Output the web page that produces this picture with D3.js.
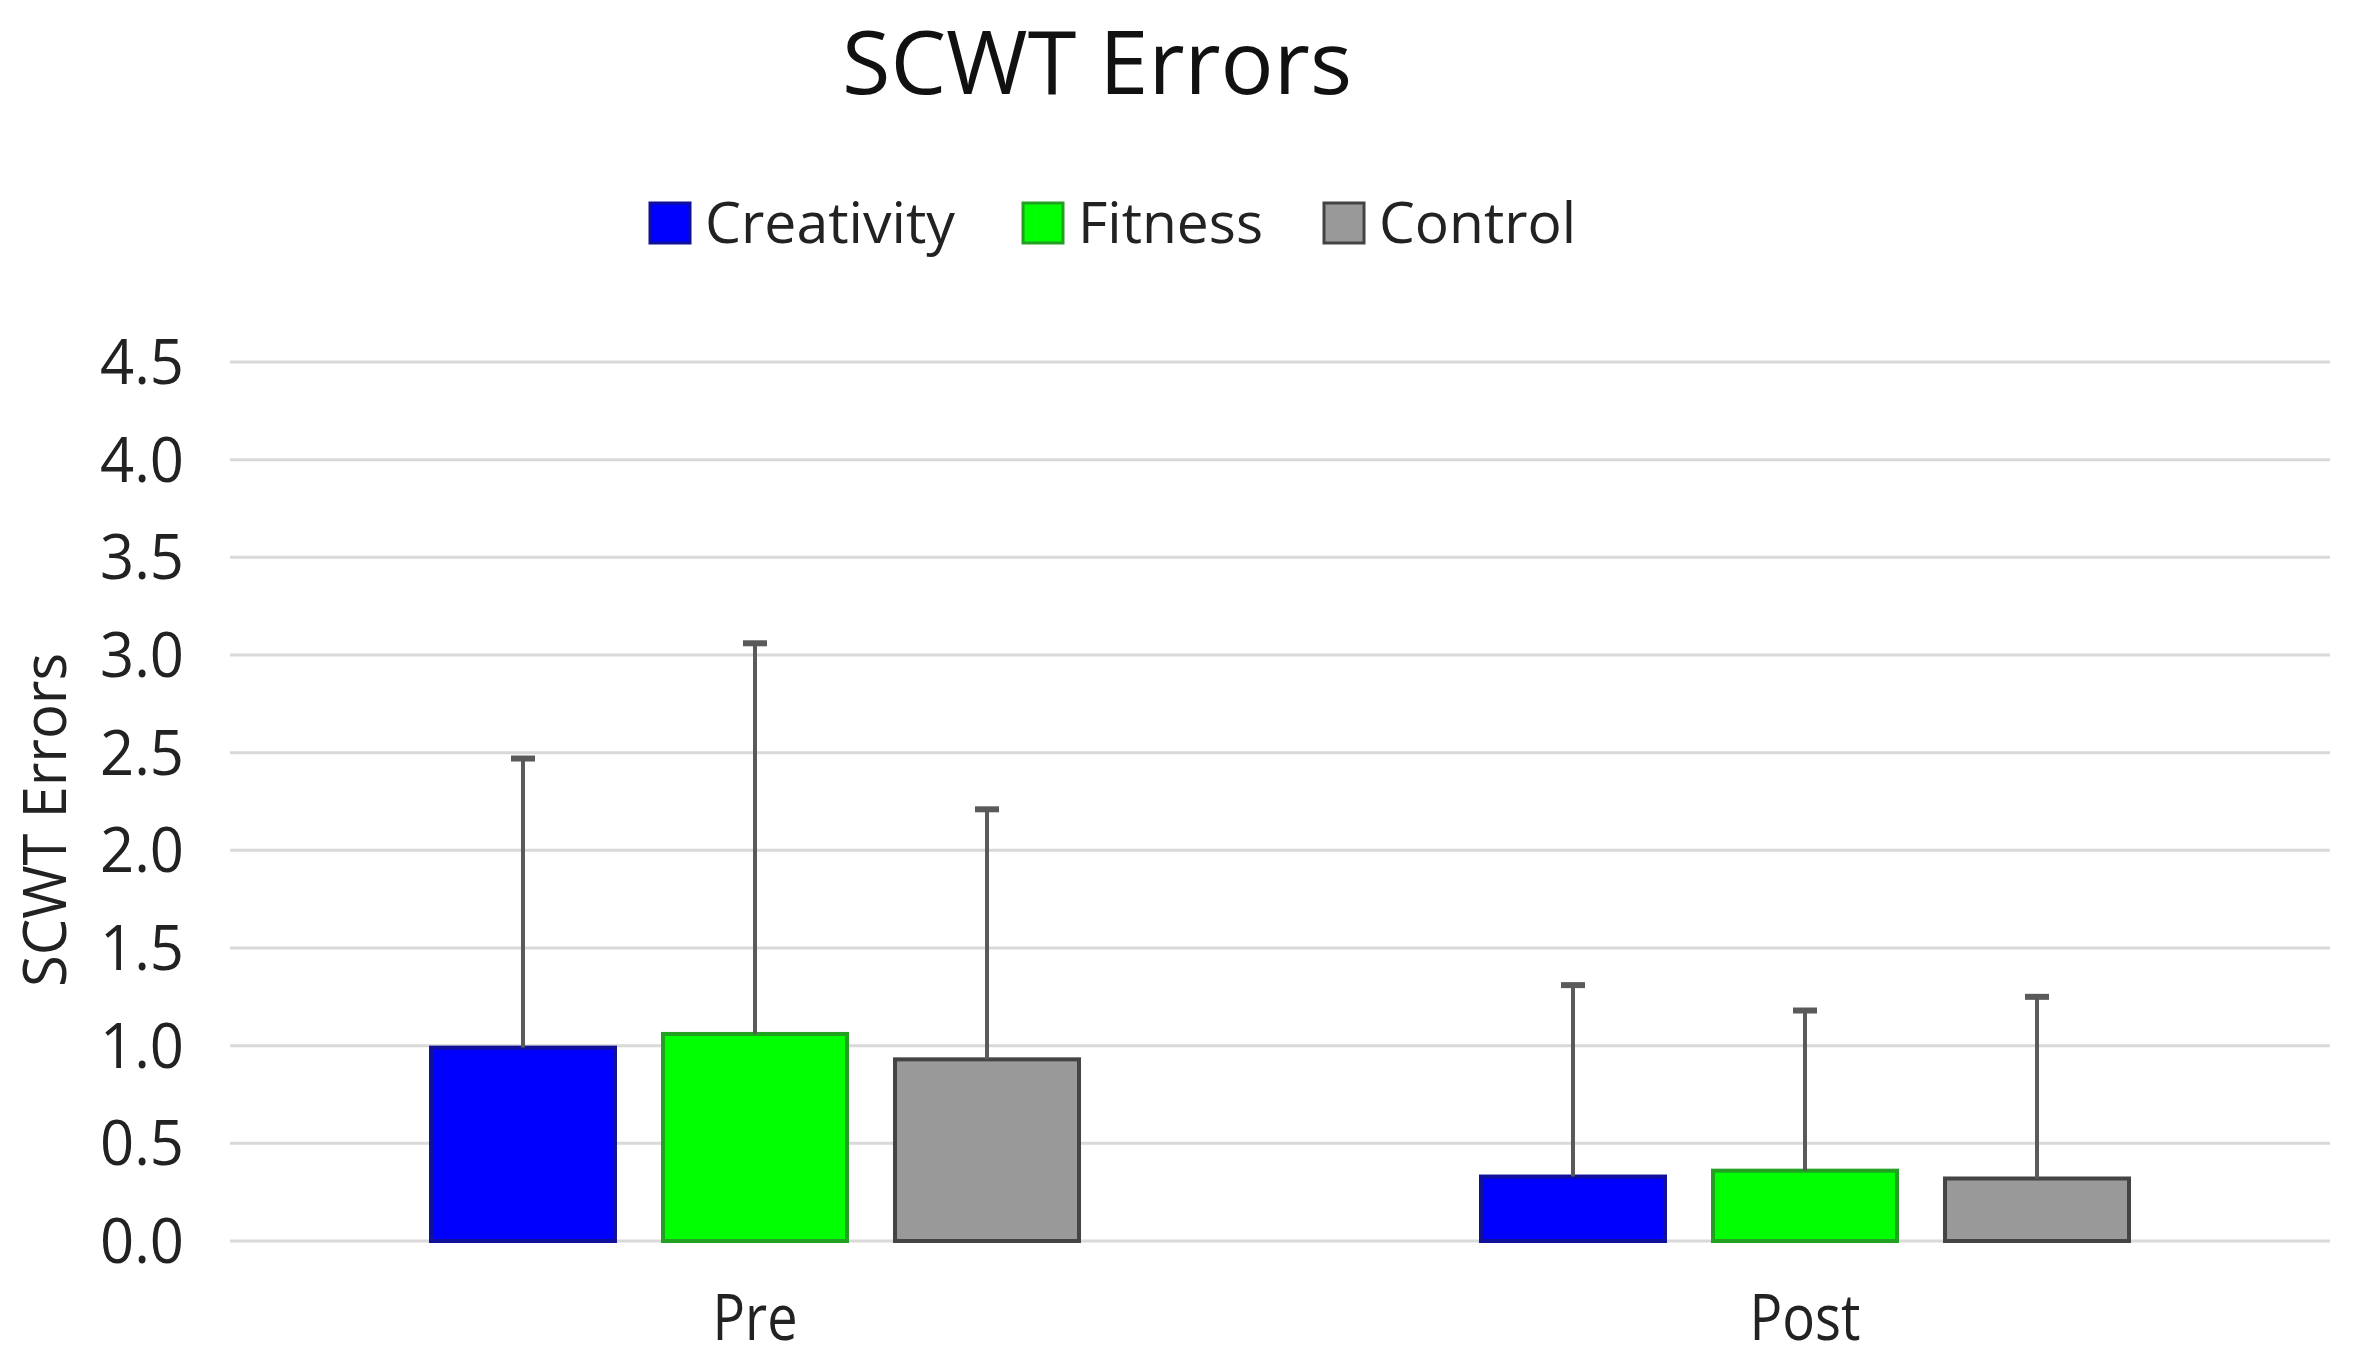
<!DOCTYPE html>
<html><head><meta charset="utf-8">
<script src="https://cdn.jsdelivr.net/npm/d3@7"></script>
<style>body{margin:0;background:#fff}</style>
</head><body>
<svg id="c" width="2353" height="1363"></svg>
<script>
const categories = ["Pre", "Post"];
const seriesNames = ["Creativity", "Fitness", "Control"];
const creativity = [0.99, 0.33];
const fitness = [1.06, 0.36];
const control = [0.93, 0.32];
const creativityErr = [1.48, 0.98];
const fitnessErr = [2.00, 0.82];
const controlErr = [1.28, 0.93];
const yTicks = [0, 0.5, 1.0, 1.5, 2.0, 2.5, 3.0, 3.5, 4.0, 4.5];

const means = [creativity, fitness, control];
const errs = [creativityErr, fitnessErr, controlErr];
const fills = ["#0000ff", "#00ff00", "#999999"];
const strokes = ["#10109a", "#22a022", "#444444"];

const svg = d3.select("#c");
const L = 230, R = 2330, T = 362, B = 1241;

const x0 = d3.scaleBand().domain(categories).range([L, R]).padding(0);
const groupW = 648;
const x1 = d3.scaleBand().domain(seriesNames).range([0, groupW]).paddingInner(0.207).paddingOuter(0);
const y = d3.scaleLinear().domain([0, 4.5]).range([B, T]);

// gridlines
svg.append("g").selectAll("line").data(yTicks).join("line")
  .attr("x1", L).attr("x2", R)
  .attr("y1", d => y(d)).attr("y2", d => y(d))
  .attr("stroke", "#d9d9d9").attr("stroke-width", 3);

// y tick labels
svg.append("g").selectAll("text").data(yTicks).join("text")
  .attr("x", 184).attr("y", d => y(d) + 22)
  .attr("text-anchor", "end")
  .attr("font-family", "Open Sans").attr("font-size", 62).attr("fill", "#222")
  .attr("textLength", 84).attr("lengthAdjust", "spacingAndGlyphs")
  .text(d => d.toFixed(1));

// bars
const data = [];
categories.forEach((c, ci) => seriesNames.forEach((s, si) => data.push({c, s, si, v: means[si][ci], e: errs[si][ci]})));
const off = (x0.bandwidth() - groupW) / 2;
const bx = d => x0(d.c) + off + x1(d.s);

svg.append("g").selectAll("rect").data(data).join("rect")
  .attr("x", d => bx(d)).attr("y", d => y(d.v))
  .attr("width", x1.bandwidth()).attr("height", d => B - y(d.v))
  .attr("fill", d => fills[d.si]).attr("stroke", d => strokes[d.si]).attr("stroke-width", 4);

// error bars (upper)
const eg = svg.append("g");
eg.selectAll("line.v").data(data).join("line").attr("class", "v")
  .attr("x1", d => bx(d) + x1.bandwidth() / 2).attr("x2", d => bx(d) + x1.bandwidth() / 2)
  .attr("y1", d => y(d.v)).attr("y2", d => y(d.v + d.e))
  .attr("stroke", "#5a5a5a").attr("stroke-width", 4);
eg.selectAll("line.c").data(data).join("line").attr("class", "c")
  .attr("x1", d => bx(d) + x1.bandwidth() / 2 - 12).attr("x2", d => bx(d) + x1.bandwidth() / 2 + 12)
  .attr("y1", d => y(d.v + d.e)).attr("y2", d => y(d.v + d.e))
  .attr("stroke", "#5a5a5a").attr("stroke-width", 6);

// x labels
const xlW = {"Pre": 85, "Post": 111};
svg.append("g").selectAll("text").data(categories).join("text")
  .attr("x", d => x0(d) + x0.bandwidth() / 2).attr("y", 1340)
  .attr("text-anchor", "middle")
  .attr("font-family", "Open Sans").attr("font-size", 64).attr("fill", "#222")
  .attr("textLength", d => xlW[d]).attr("lengthAdjust", "spacingAndGlyphs")
  .text(d => d);

// title
svg.append("text").attr("x", 1097).attr("y", 94).attr("text-anchor", "middle")
  .attr("font-family", "Open Sans").attr("font-size", 88).attr("fill", "#111")
  .attr("textLength", 510).attr("lengthAdjust", "spacingAndGlyphs")
  .text("SCWT Errors");

// y axis title
svg.append("text").attr("transform", "translate(66,820) rotate(-90)")
  .attr("text-anchor", "middle")
  .attr("font-family", "Open Sans").attr("font-size", 60).attr("fill", "#222")
  .attr("textLength", 334).attr("lengthAdjust", "spacingAndGlyphs")
  .text("SCWT Errors");

// legend
const legX = [650, 1023, 1324];
const legW = [250, 185, 197];
const lg = svg.append("g").selectAll("g").data(seriesNames).join("g");
lg.append("rect").attr("x", (d, i) => legX[i]).attr("y", 203).attr("width", 40).attr("height", 40)
  .attr("fill", (d, i) => fills[i]).attr("stroke", (d, i) => strokes[i]).attr("stroke-width", 3);
lg.append("text").attr("x", (d, i) => legX[i] + 55).attr("y", 243)
  .attr("font-family", "Open Sans").attr("font-size", 57).attr("fill", "#222")
  .attr("textLength", (d, i) => legW[i]).attr("lengthAdjust", "spacingAndGlyphs")
  .text(d => d);
</script>
</body></html>
